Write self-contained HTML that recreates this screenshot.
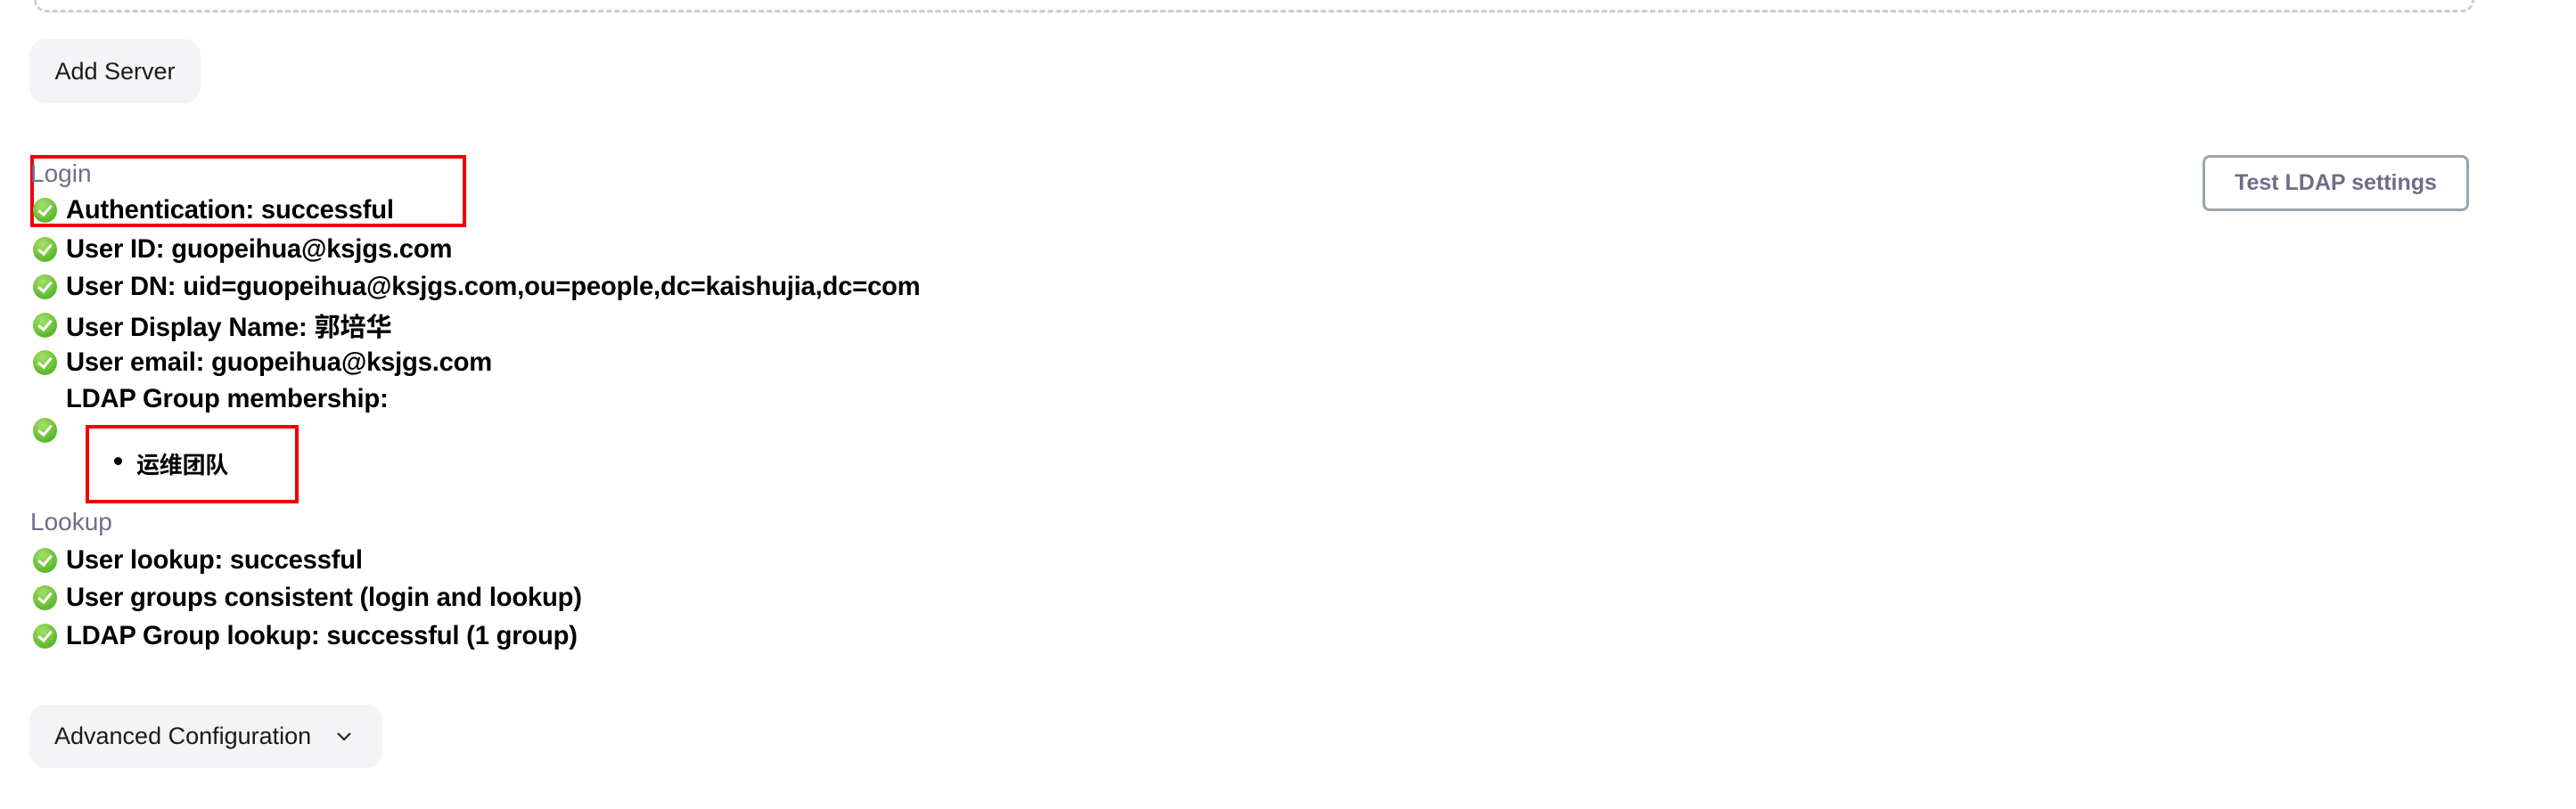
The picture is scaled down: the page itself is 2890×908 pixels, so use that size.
<!DOCTYPE html>
<html><head><meta charset="utf-8"><style>
body{margin:0;width:2890px;height:908px;background:#fff;position:relative;overflow:hidden;font-family:"Liberation Sans","Noto Sans CJK SC",sans-serif;}
.abs{position:absolute}
.dash{left:38px;top:-60px;width:2732px;height:68px;border:3px dashed #c9cfd4;border-radius:14px}
.btn{background:#f4f4f6;border-radius:18px;color:#1a1a1a;font-size:27px;line-height:1}
.lbl{color:#6e6e8a;font-size:28px;line-height:1;left:34px}
.row{left:37px;height:30px;display:flex;align-items:center}
.ic{width:27px;height:28px;border-radius:50%;background:radial-gradient(circle at 40% 30%,#a6e06a,#5cb82c 70%);position:relative;flex:none}
.ic:after{content:"";position:absolute;left:9px;top:5px;width:6px;height:12px;border:solid #fff;border-width:0 3px 3px 0;transform:rotate(40deg)}
.t{font-weight:bold;font-size:29.2px;color:#000;margin-left:10px;white-space:nowrap;letter-spacing:-0.2px}
.red{border:4px solid #f00000}
</style></head><body>
<div class="abs dash"></div>
<div class="abs btn" style="left:33px;top:44px;width:192px;height:72px;display:flex;align-items:center;justify-content:center">Add Server</div>
<div class="abs" style="left:2471px;top:174px;width:293px;height:57px;border:3px solid #9aa5ad;border-radius:8px;display:flex;align-items:center;justify-content:center;color:#6e6d89;font-weight:bold;font-size:25px">Test LDAP settings</div>

<div class="abs red" style="left:34px;top:174px;width:481px;height:73px"></div>
<div class="abs lbl" style="top:181px">Login</div>
<div class="abs row" style="top:221px"><div class="ic"></div><span class="t">Authentication: successful</span></div>
<div class="abs row" style="top:265px"><div class="ic"></div><span class="t">User ID: guopeihua@ksjgs.com</span></div>
<div class="abs row" style="top:307px"><div class="ic"></div><span class="t">User DN: uid=guopeihua@ksjgs.com,ou=people,dc=kaishujia,dc=com</span></div>
<div class="abs row" style="top:350px"><div class="ic"></div><span class="t">User Display Name: 郭培华</span></div>
<div class="abs row" style="top:392px"><div class="ic"></div><span class="t">User email: guopeihua@ksjgs.com</span></div>
<div class="abs row" style="top:433px"><div style="width:27px"></div><span class="t">LDAP Group membership:</span></div>
<div class="abs row" style="top:468px"><div class="ic"></div></div>
<div class="abs red" style="left:96px;top:477px;width:231px;height:80px"></div>
<div class="abs" style="left:128px;top:513px;width:9px;height:9px;border-radius:50%;background:#000"></div>
<div class="abs t" style="left:153px;top:502px;margin:0;font-size:26px">运维团队</div>

<div class="abs lbl" style="top:572px">Lookup</div>
<div class="abs row" style="top:614px"><div class="ic"></div><span class="t">User lookup: successful</span></div>
<div class="abs row" style="top:656px"><div class="ic"></div><span class="t">User groups consistent (login and lookup)</span></div>
<div class="abs row" style="top:699px"><div class="ic"></div><span class="t">LDAP Group lookup: successful (1 group)</span></div>

<div class="abs btn" style="left:33px;top:791px;width:396px;height:71px;display:flex;align-items:center"><span style="margin-left:28px">Advanced Configuration</span>
<svg style="margin-left:28px" width="18" height="12" viewBox="0 0 18 12"><path d="M2 2 L9 9 L16 2" fill="none" stroke="#222" stroke-width="2.2"/></svg></div>
</body></html>
